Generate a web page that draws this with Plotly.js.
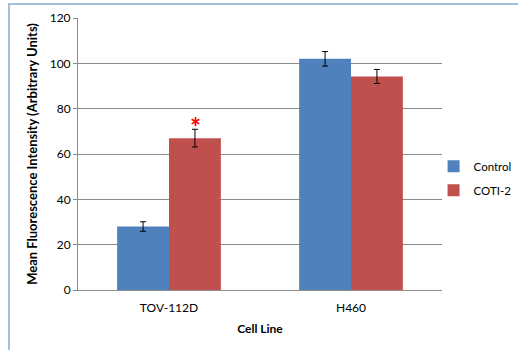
<!DOCTYPE html>
<html>
<head>
<meta charset="utf-8">
<script src="https://cdn.plot.ly/plotly-3.0.1.min.js"></script>
<style>
  html, body { margin: 0; padding: 0; background: #fff; overflow: hidden; }
  #frame {
    position: absolute; left: 8px; top: 3px; width: 600px; height: 400px;
    border-left: 2px solid #a7bfdf; border-top: 2px solid #a7bfdf;
  }
  #chart { position: absolute; left: 0; top: 0; width: 518px; height: 350px; }
</style>
</head>
<body>
<div id="frame"></div>
<div id="chart"></div>
<script>
// Mean fluorescence intensity per cell line, with standard error
const cellLines = ['TOV-112D', 'H460'];
const controlValues = [28, 102];
const controlErrors = [2.1, 3.2];
const coti2Values = [67, 94.2];
const coti2Errors = [3.9, 3.1];
const yTicks = [0, 20, 40, 60, 80, 100, 120];

const font = 'Lato, "Open Sans", "Liberation Sans", sans-serif';

const traces = [
  {
    type: 'bar', name: 'Control', x: cellLines, y: controlValues, legendgroup: 'a',
    marker: { color: '#4f81bd' },
    error_y: { type: 'data', array: controlErrors, visible: true, color: '#000', thickness: 1, width: 3 }
  },
  {
    type: 'bar', name: 'COTI-2', x: cellLines, y: coti2Values, legendgroup: 'b',
    marker: { color: '#c0504d' },
    error_y: { type: 'data', array: coti2Errors, visible: true, color: '#000', thickness: 1, width: 3 }
  }
];

const layout = {
  width: 518, height: 350,
  margin: { l: 78, r: 76, t: 18, b: 60, autoexpand: false },
  paper_bgcolor: 'rgba(0,0,0,0)',
  plot_bgcolor: 'rgba(0,0,0,0)',
  font: { family: font, size: 12, color: '#000' },
  barmode: 'group', bargap: 0.43, bargroupgap: 0,
  showlegend: true,
  legend: {
    xref: 'container', yref: 'container',
    x: 0.837, y: 0.491, xanchor: 'left', yanchor: 'middle',
    font: { family: font, size: 11.5, color: '#000' },
    itemwidth: 30, tracegroupgap: 5, traceorder: 'grouped', bgcolor: 'rgba(0,0,0,0)'
  },
  xaxis: {
    type: 'category',
    showline: true, linecolor: '#8c8c8c', linewidth: 1,
    ticks: '', showgrid: false, ticklabelstandoff: 7,
    tickfont: { family: font, size: 12 },
    title: { text: '<b>Cell Line</b>', font: { family: font, size: 12 }, standoff: 10 }
  },
  yaxis: {
    range: [0, 120], tickvals: yTicks, ticktext: yTicks.map(String),
    showline: true, linecolor: '#8c8c8c', linewidth: 1,
    ticks: 'outside', ticklen: 4, tickcolor: '#8c8c8c',
    showgrid: true, gridcolor: '#8c8c8c', gridwidth: 1, zeroline: false,
    tickfont: { family: font, size: 12 },
    title: { text: '<b>Mean Fluorescence Intensity (Arbitrary Units)</b>', font: { family: font, size: 13 }, standoff: 9 }
  },
  annotations: [{
    x: cellLines[0], y: coti2Values[0] + coti2Errors[0],
    xref: 'x', yref: 'y', xshift: 26, yshift: -16,
    yanchor: 'bottom', text: '<b>*</b>', showarrow: false,
    font: { family: font, size: 26, color: '#ff0000' }
  }]
};

Plotly.newPlot('chart', traces, layout, { displayModeBar: false, staticPlot: true });
</script>
</body>
</html>
